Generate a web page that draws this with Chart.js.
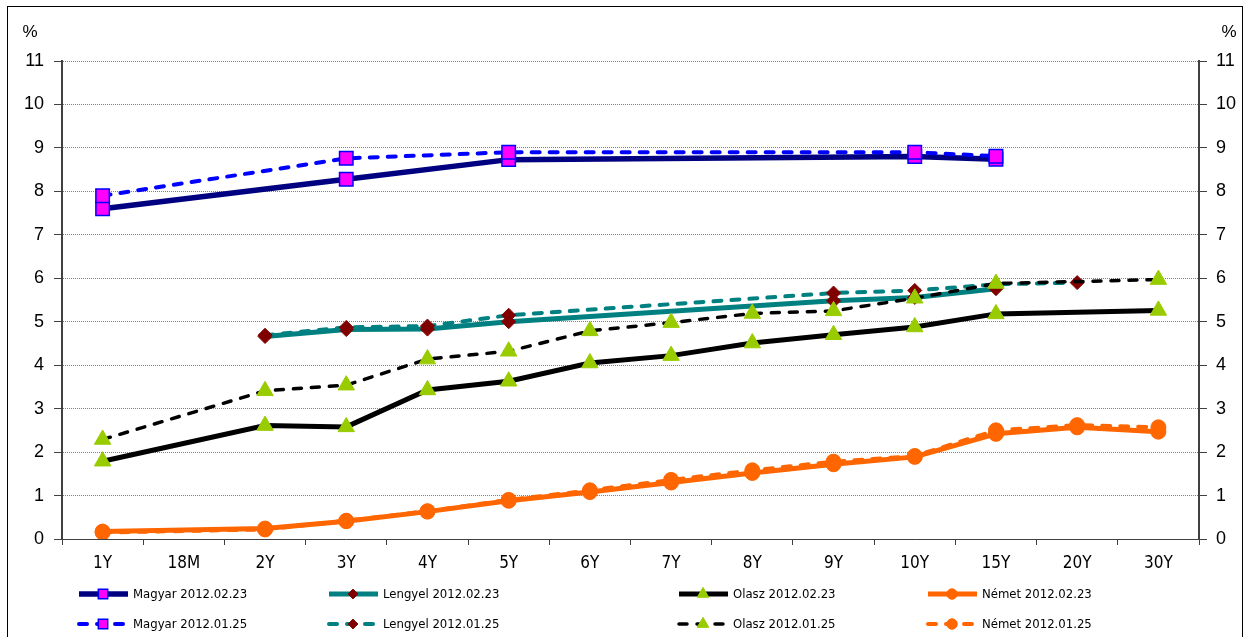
<!DOCTYPE html>
<html>
<head>
<meta charset="utf-8">
<script src="https://cdn.jsdelivr.net/npm/chart.js@4/dist/chart.umd.min.js"></script>
<style>
html, body { margin: 0; padding: 0; background: #fff; }
</style>
</head>
<body>
<canvas id="YieldChart" width="1248" height="637"></canvas>
<script>
var categories = ['1Y', '18M', '2Y', '3Y', '4Y', '5Y', '6Y', '7Y', '8Y', '9Y', '10Y', '15Y', '20Y', '30Y'];
var yTicks = [0, 1, 2, 3, 4, 5, 6, 7, 8, 9, 10, 11];

var magyarFeb  = [7.60, null, null, 8.28, null, 8.73, null, null, null, null, 8.80, 8.74, null, null];
var magyarJan  = [7.90, null, null, 8.76, null, 8.90, null, null, null, null, 8.90, 8.81, null, null];
var lengyelFeb = [null, null, 4.66, 4.82, 4.83, 5.00, null, null, null, 5.48, 5.56, 5.76, null, null];
var lengyelJan = [null, null, 4.69, 4.87, 4.90, 5.15, null, null, null, 5.66, 5.72, 5.86, 5.90, null];
var olaszFeb   = [1.79, null, 2.61, 2.58, 3.43, 3.63, 4.05, 4.22, 4.51, 4.70, 4.88, 5.18, null, 5.26];
var olaszJan   = [2.29, null, 3.41, 3.54, 4.14, 4.32, 4.79, 4.98, 5.19, 5.25, 5.54, 5.88, null, 5.97];
var nemetFeb   = [0.17, null, 0.24, 0.41, 0.63, 0.88, 1.08, 1.30, 1.52, 1.72, 1.89, 2.42, 2.57, 2.47];
var nemetJan   = [0.15, null, 0.22, 0.42, 0.64, 0.90, 1.12, 1.36, 1.58, 1.78, 1.91, 2.50, 2.62, 2.57];

var legendRows = [
	['Magyar 2012.02.23', 'Lengyel 2012.02.23', 'Olasz 2012.02.23', 'Német 2012.02.23'],
	['Magyar 2012.01.25', 'Lengyel 2012.01.25', 'Olasz 2012.01.25', 'Német 2012.01.25']
];

var DASH = [8, 10];

function series(label, data, color, width, dashed, style, radius, fill, edge, edgeWidth) {
	return {
		label: label,
		data: data,
		borderColor: color,
		borderWidth: width,
		borderDash: dashed ? DASH : [],
		borderCapStyle: dashed ? 'round' : 'butt',
		pointStyle: style,
		pointRadius: radius,
		pointHoverRadius: radius,
		pointBackgroundColor: fill,
		pointBorderColor: edge,
		pointBorderWidth: edgeWidth,
		tension: 0,
		spanGaps: true,
		fill: false
	};
}

var datasets = [
	series('Olasz 2012.01.25', olaszJan, '#000000', 3.5, true, 'triangle', 9.5, '#99CC00', '#99CC00', 1),
	series('Olasz 2012.02.23', olaszFeb, '#000000', 5, false, 'triangle', 9.5, '#99CC00', '#99CC00', 1),
	series('Német 2012.01.25', nemetJan, '#FF6600', 4, true, 'circle', 7.5, '#FF6600', '#FF6600', 1),
	series('Német 2012.02.23', nemetFeb, '#FF6600', 5, false, 'circle', 7.5, '#FF6600', '#FF6600', 1),
	series('Lengyel 2012.01.25', lengyelJan, '#008080', 4, true, 'rectRot', 7, '#800000', '#800000', 1),
	series('Lengyel 2012.02.23', lengyelFeb, '#008080', 5, false, 'rectRot', 7, '#800000', '#800000', 1),
	series('Magyar 2012.01.25', magyarJan, '#0000FF', 4, true, 'rect', 9.5, '#FF00FF', '#0000FF', 1.5),
	series('Magyar 2012.02.23', magyarFeb, '#000080', 5.5, false, 'rect', 9.5, '#FF00FF', '#0000FF', 1.5)
];

// legend markers are drawn smaller than the ones on the plot
function drawMarker(ctx, ds, x, y, scale) {
	var r = ds.pointRadius * scale;
	ctx.save();
	ctx.setLineDash([]);
	ctx.fillStyle = ds.pointBackgroundColor;
	ctx.strokeStyle = ds.pointBorderColor;
	ctx.lineWidth = ds.pointBorderWidth;
	ctx.beginPath();
	if (ds.pointStyle === 'rect') {
		var s = r * Math.SQRT1_2;
		ctx.rect(x - s, y - s, 2 * s, 2 * s);
	} else if (ds.pointStyle === 'rectRot') {
		ctx.moveTo(x - r, y); ctx.lineTo(x, y - r); ctx.lineTo(x + r, y); ctx.lineTo(x, y + r);
		ctx.closePath();
	} else if (ds.pointStyle === 'triangle') {
		ctx.moveTo(x, y - r);
		ctx.lineTo(x + r * Math.sin(Math.PI * 2 / 3), y - r * Math.cos(Math.PI * 2 / 3));
		ctx.lineTo(x + r * Math.sin(Math.PI * 4 / 3), y - r * Math.cos(Math.PI * 4 / 3));
		ctx.closePath();
	} else {
		ctx.arc(x, y, r, 0, Math.PI * 2);
	}
	ctx.fill();
	ctx.stroke();
	ctx.restore();
}

var decorations = {
	id: 'decorations',
	afterDraw: function(chart) {
		var ctx = chart.ctx;
		ctx.save();
		// outer frame
		ctx.strokeStyle = '#000000';
		ctx.lineWidth = 1;
		ctx.strokeRect(7.5, 6.5, 1235, 640);
		// percent signs over both axes
		ctx.fillStyle = '#000000';
		ctx.font = '17px "Liberation Sans", Arial, sans-serif';
		ctx.textAlign = 'center';
		ctx.textBaseline = 'middle';
		ctx.fillText('%', 30, 32);
		ctx.fillText('%', 1229, 32);
		// legend, 4 columns x 2 rows
		var cols = [77, 327, 677, 926];
		var rows = [594, 624];
		ctx.font = '13px "DejaVu Sans Condensed", "DejaVu Sans", sans-serif';
		ctx.textAlign = 'left';
		legendRows.forEach(function(row, ri) {
			row.forEach(function(label, ci) {
				var ds = chart.data.datasets.find(function(d) { return d.label === label; });
				var x = cols[ci], y = rows[ri];
				ctx.save();
				ctx.strokeStyle = ds.borderColor;
				ctx.lineWidth = ds.borderWidth;
				ctx.lineCap = ds.borderCapStyle;
				ctx.setLineDash(ds.borderDash);
				ctx.beginPath();
				ctx.moveTo(x + 2, y);
				ctx.lineTo(x + 51, y);
				ctx.stroke();
				ctx.restore();
				drawMarker(ctx, ds, x + 26, y, 0.7);
				ctx.fillStyle = '#000000';
				ctx.fillText(label, x + 56, y + 1);
			});
		});
		ctx.restore();
	}
};

var tickFont = { family: '"Liberation Sans", Arial, sans-serif', size: 18 };

var ctx = document.getElementById('YieldChart').getContext('2d');
var config = {
	type: 'line',
	data: {
		labels: categories,
		datasets: datasets
	},
	options: {
		responsive: false,
		animation: false,
		devicePixelRatio: 1,
		layout: { padding: { top: 61, bottom: 58, left: 0, right: 0 } },
		plugins: {
			legend: { display: false },
			tooltip: { enabled: false }
		},
		scales: {
			x: {
				offset: true,
				grid: { offset: true, drawOnChartArea: false, tickLength: 6, color: '#404040' },
				border: { color: '#404040', width: 1 },
				ticks: {
					color: '#000000',
					font: { family: '"DejaVu Sans Condensed", "DejaVu Sans", sans-serif', size: 17 },
					padding: 8,
					autoSkip: false,
					maxRotation: 0
				},
				afterFit: function(s) { s.height = 40; }
			},
			y: {
				position: 'left',
				min: 0,
				max: 11,
				afterBuildTicks: function(s) { s.ticks = yTicks.map(function(v) { return { value: v }; }); },
				grid: { color: '#808080', lineWidth: 1, tickLength: 8, tickColor: '#404040' },
				border: { color: '#404040', width: 2, dash: [1, 1] },
				ticks: { color: '#000000', font: tickFont, padding: 10 },
				afterFit: function(s) { s.width = 62; }
			},
			y2: {
				position: 'right',
				min: 0,
				max: 11,
				afterBuildTicks: function(s) { s.ticks = yTicks.map(function(v) { return { value: v }; }); },
				grid: { drawOnChartArea: false, tickLength: 8, color: '#404040' },
				border: { color: '#404040', width: 2 },
				ticks: { color: '#000000', font: tickFont, padding: 9 },
				afterFit: function(s) { s.width = 49; }
			}
		}
	},
	plugins: [decorations]
};

var chart = new Chart(ctx, config);
</script>
</body>
</html>
